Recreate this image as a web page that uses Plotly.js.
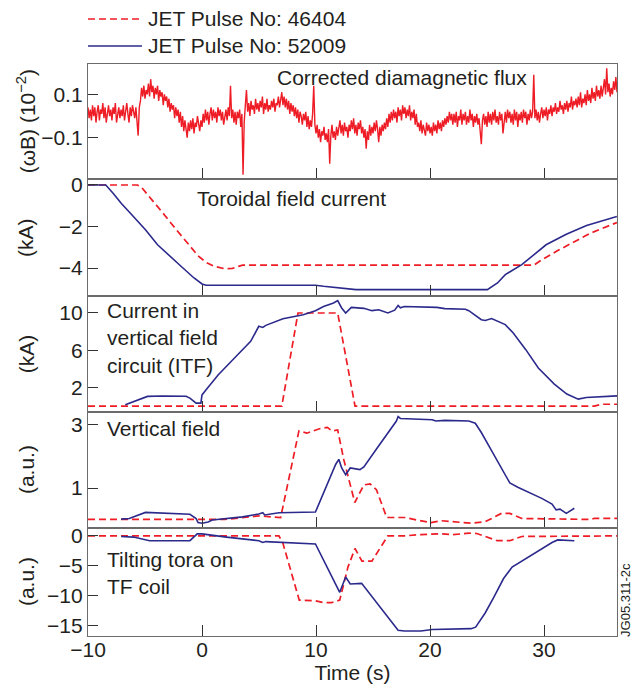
<!DOCTYPE html>
<html><head><meta charset="utf-8">
<script src="https://cdn.plot.ly/plotly-3.0.1.min.js"></script>
<style>html,body{margin:0;padding:0;background:#fff;}#chart{width:634px;height:686px;}</style>
</head><body><div id="chart"></div>
<script>
// ---------- data ----------
const timeRange = [-10, 36.4];
const xTickVals = [-10, 0, 10, 20, 30];
const xTickText = ['\u221210', '0', '10', '20', '30'];
const legendNames = ['JET Pulse No: 46404', 'JET Pulse No: 52009'];
const panelLabels = ['Corrected diamagnetic flux', 'Toroidal field current',
  'Current in<br>vertical field<br>circuit (ITF)', 'Vertical field', 'Tilting tora on<br>TF coil'];
const yTitles = ['(\u03c9B) (10<sup>\u22122</sup>)', '(kA)', '(kA)', '(a.u.)', '(a.u.)'];
const yTickVals1 = [-0.1, 0.1];
const yTickText1 = ['\u22120.1', '0.1'];
const yTickVals2 = [-4, -2, 0];
const yTickVals3 = [2, 6, 10];
const yTickVals4 = [1, 3];
const yTickVals5 = [-15, -10, -5, 0];

// Panel 1: corrected diamagnetic flux, read every 0.1 s from -10 s (one row per second)
const fluxStart = -10, fluxStep = 0.1;
const fluxValues = [
  0.04,-0.01,0.03,-0.02,0.05,0.00,0.04,-0.03,0.02,0.05,
  -0.02,0.03,0.01,0.06,-0.01,0.04,-0.03,0.02,0.05,0.00,
  0.03,-0.02,0.04,0.01,0.06,-0.03,0.02,0.04,-0.01,0.03,
  0.00,0.05,-0.02,0.03,0.06,0.01,-0.03,0.04,0.00,0.05,
  0.02,-0.01,0.04,-0.05,-0.09,0.04,0.07,0.13,0.09,0.14,
  0.08,0.12,0.10,0.15,0.09,0.17,0.11,0.14,0.08,0.13,
  0.10,0.14,0.07,0.12,0.09,0.11,0.05,0.10,0.07,0.09,
  0.04,0.08,0.02,0.06,0.03,0.05,-0.01,0.04,0.00,0.03,
  -0.03,0.02,-0.05,0.00,-0.07,-0.02,-0.06,-0.10,-0.03,-0.07,
  -0.02,-0.06,-0.01,-0.08,-0.03,-0.05,0.00,-0.04,-0.07,-0.02,
  -0.05,0.01,-0.03,0.03,-0.02,0.02,-0.04,0.01,0.04,-0.02,
  0.03,-0.01,0.02,-0.03,0.04,0.00,0.03,-0.02,0.02,-0.04,
  0.01,0.03,-0.02,0.04,0.00,0.14,-0.01,0.03,-0.03,0.02,
  -0.04,0.02,-0.01,0.03,-0.05,0.01,-0.27,-0.03,0.05,0.12,
  0.02,0.06,0.00,0.07,0.03,0.05,0.01,0.08,0.03,0.06,
  0.02,0.07,0.04,0.09,0.01,0.06,0.03,0.08,0.02,0.05,
  0.03,0.07,0.04,0.08,0.02,0.06,0.05,0.09,0.04,0.07,
  0.11,0.05,0.09,0.04,0.08,0.03,0.07,0.01,0.06,0.02,
  0.05,0.00,0.04,-0.01,0.03,-0.03,0.02,0.00,-0.04,0.01,
  -0.02,0.02,-0.05,0.00,-0.06,-0.02,-0.05,0.01,0.14,-0.04,
  -0.08,-0.04,-0.10,-0.06,-0.12,-0.07,-0.09,-0.05,-0.11,-0.08,
  -0.12,-0.06,-0.22,-0.09,-0.04,-0.10,-0.07,-0.11,-0.05,-0.09,
  -0.06,-0.02,-0.08,-0.04,-0.09,-0.03,-0.07,-0.05,-0.10,-0.04,
  -0.07,-0.02,-0.06,-0.01,-0.08,-0.04,-0.09,-0.03,-0.06,-0.02,
  -0.08,-0.05,-0.10,-0.06,-0.15,-0.07,-0.11,-0.04,-0.09,-0.05,
  -0.08,-0.03,-0.07,-0.02,-0.06,-0.12,-0.05,-0.09,-0.04,-0.07,
  -0.03,-0.06,-0.01,-0.05,0.01,-0.03,0.02,-0.02,0.03,-0.01,
  0.02,-0.03,0.04,0.00,0.03,-0.02,0.05,0.01,0.04,-0.01,
  0.03,0.00,0.05,-0.02,0.02,-0.01,0.03,-0.04,0.01,-0.05,
  -0.03,-0.07,-0.02,-0.08,-0.04,-0.06,-0.09,-0.03,-0.07,-0.04,
  -0.08,-0.05,-0.09,-0.03,-0.07,-0.04,-0.08,-0.02,-0.06,-0.03,
  -0.07,-0.02,-0.05,-0.01,-0.04,0.00,-0.03,0.02,-0.02,0.01,
  -0.04,0.01,-0.03,0.02,-0.05,0.00,-0.02,0.03,-0.04,0.01,
  -0.02,0.02,-0.04,0.00,-0.03,0.03,-0.02,0.01,-0.05,0.00,
  -0.03,0.01,-0.04,-0.01,-0.07,-0.13,-0.02,0.01,-0.04,0.00,
  -0.05,0.02,-0.03,0.01,-0.04,0.02,-0.02,0.03,-0.03,0.00,
  -0.04,0.02,-0.02,0.01,-0.08,-0.01,0.02,-0.03,0.03,-0.01,
  0.02,-0.03,0.01,-0.04,0.03,-0.02,0.02,-0.05,0.01,-0.02,
  0.02,-0.03,0.03,-0.01,0.02,-0.04,0.01,-0.02,0.03,-0.01,
  0.02,0.19,-0.01,0.03,-0.02,0.02,-0.03,0.01,0.04,-0.01,
  0.03,0.00,0.04,-0.02,0.03,0.01,0.05,0.00,0.04,0.02,
  0.06,0.01,0.04,0.02,0.07,0.03,0.05,0.01,0.06,0.03,
  0.07,0.02,0.06,0.04,0.09,0.03,0.07,0.05,0.08,0.04,
  0.09,0.05,0.11,0.04,0.08,0.06,0.10,0.05,0.12,0.07,
  0.10,0.06,0.13,0.08,0.11,0.07,0.14,0.09,0.12,0.08,
  0.14,0.09,0.12,0.17,0.10,0.22,0.11,0.15,0.09,0.13,
  0.10,0.16,0.12,0.18,0.11
];
const fluxTime = fluxValues.map((_, i) => +(fluxStart + i * fluxStep).toFixed(2));

// Panel 2: toroidal field current (kA)
const torRedT = [-10,-5.67,-5.31,-4.6,-3.54,-2.48,-1.41,-0.35,0.36,1.07,1.96,2.67,3.2,3.56,29.11,29.82,31.24,32.66,34.08,36.39];
const torRedV = [0,0,-0.11,-0.56,-1.28,-2.0,-2.72,-3.41,-3.73,-3.92,-4.03,-4.02,-3.92,-3.86,-3.86,-3.6,-3.15,-2.72,-2.32,-1.81];
const torBlueT = [-10,-8.44,-7.8,-7.09,-6.02,-4.96,-3.9,-2.83,-1.77,-0.7,0,0.36,9.95,10.66,13.5,25.03,25.92,26.6,28.05,30.18,31.95,33.73,36.39];
const torBlueV = [0,0,-0.4,-0.88,-1.52,-2.16,-2.88,-3.44,-3.95,-4.48,-4.77,-4.83,-4.83,-4.88,-5.04,-5.04,-4.72,-4.32,-3.84,-2.88,-2.37,-1.95,-1.52];

// Panel 3: current in vertical field circuit (kA)
const vfcRedT = [-10,7.0,8.42,11.9,13.42,34.4,35.1,36.4];
const vfcRedV = [0,0,10,10,0,0,0.2,0.2];
const vfcBlueT = [-6.73,-4.78,-3.5,-2.0,-1.4,-1.06,-0.52,-0.1,0,0.36,1.43,2.85,4.27,4.98,5.33,5.6,7.1,8.88,9.95,10.66,11.54,11.9,12.25,12.6,13.1,14.2,14.9,15.5,16.3,16.9,17.2,17.4,17.75,20.6,21.3,23.1,23.4,24.5,24.85,25.4,26.6,27.3,28.4,29.5,30.9,32.0,33.0,33.7,36.4];
const vfcBlueV = [0.14,1.04,1.08,1.1,1.05,0.86,0.32,0.32,1.2,1.76,3.37,5.16,6.95,8.57,8.45,8.67,9.39,9.82,10.25,10.7,11.07,11.33,10.54,10.0,10.6,10.5,10.25,10.35,10.0,10.3,10.8,10.55,10.7,10.6,10.47,10.4,10.25,9.28,9.2,9.4,8.75,7.85,6.06,4.09,2.37,1.29,0.75,0.93,1.1];

// Panel 4: vertical field (a.u.)
const vfRedT = [-10,-1,0,2,5.0,6.9,8.5,9.2,10.3,11.0,11.4,11.9,12.43,13.4,14.2,14.74,15.3,16.2,17.75,18.8,20.06,21.0,22.0,23.6,24.85,26.27,27.0,28.05,34.1,34.4,36.4];
const vfRedV = [0.02,0.02,0.0,0.02,0.13,0.08,2.79,2.72,2.86,2.9,2.79,2.82,1.9,0.55,1.1,1.13,0.95,0.08,0.08,0.0,-0.08,-0.02,-0.05,-0.1,-0.05,0.21,0.21,0.05,0.02,0.05,0.05];
const vfBlueT = [-7.09,-6.38,-4.96,-1.06,-0.52,-0.35,0,0.54,0.9,2.14,3.56,4.98,5.33,5.5,6.75,9.95,10.66,11.72,12.0,12.25,12.6,13.0,13.85,14.2,15.27,16.3,17.05,17.2,17.4,20.2,20.5,21.3,23.4,23.97,24.5,25.2,26.3,27.0,27.7,28.4,29.8,30.7,31.06,31.4,31.95,32.66];
const vfBlueV = [0.03,0.05,0.24,0.18,0.05,-0.08,-0.1,-0.06,0.0,0.05,0.1,0.19,0.23,0.16,0.23,0.25,0.84,1.74,1.9,1.63,1.42,1.63,1.58,1.66,2.21,2.74,3.1,3.24,3.18,3.14,3.1,3.12,3.1,3.03,2.74,2.3,1.58,1.16,1.03,0.92,0.68,0.5,0.32,0.34,0.21,0.37];

// Panel 5: tilting tora on TF coil (a.u.)
const tiltRedT = [-10,6.75,7.1,8.53,9.95,10.66,11.37,12.08,12.8,13.42,14.03,14.9,16.3,17.75,19.2,21.0,22.0,23.4,24.1,24.85,25.9,27.0,28.05,36.4];
const tiltRedV = [0,0,-1.24,-10.7,-10.8,-11.1,-11.1,-10.7,-5.2,-2.1,-4.2,-4.2,0,0,0.22,0.34,0.2,0.45,0.4,-0.1,-0.8,-0.8,-0.1,0];
const tiltBlueT = [-7.09,-6.0,-4.6,-1.06,-0.42,0,2.14,4.98,5.33,5.6,9.95,12.08,12.6,13.0,14.0,17.2,17.75,19.2,20.2,21.0,23.6,24.0,24.5,24.85,25.6,26.45,27.2,28.4,29.8,30.7,31.2,32.66];
const tiltBlueV = [-0.1,-0.2,-0.8,-0.8,0.34,0.34,-0.2,-0.8,-1.1,-0.95,-1.35,-9.4,-6.85,-8.0,-7.9,-15.7,-15.85,-15.85,-15.6,-15.56,-15.45,-15.2,-13.9,-12.8,-10.2,-7.1,-5.2,-3.76,-2.1,-1.1,-0.67,-0.8];

// ---------- styling ----------
const RED = '#ee1c25', BLUE = '#2b2a8c', FRAME = '#6b6b6b', TXT = '#231f20';
const FONT = 'Liberation Sans, Arial, Helvetica, sans-serif';
const FS = 21;
const redDash = {color: RED, width: 1.7, dash: '7px,4px'};
const blueLine = {color: BLUE, width: 1.6};

function tr(x, y, line, ax, name) {
  return {x: x, y: y, type: 'scatter', mode: 'lines', line: line, name: name,
          xaxis: 'x' + ax, yaxis: 'y' + ax, showlegend: false, hoverinfo: 'skip'};
}
const data = [
  tr(fluxTime, fluxValues, {color: RED, width: 1.4}, '', legendNames[0]),
  tr(torRedT, torRedV, redDash, '2', legendNames[0]),
  tr(torBlueT, torBlueV, blueLine, '2', legendNames[1]),
  tr(vfcRedT, vfcRedV, redDash, '3', legendNames[0]),
  tr(vfcBlueT, vfcBlueV, blueLine, '3', legendNames[1]),
  tr(vfRedT, vfRedV, redDash, '4', legendNames[0]),
  tr(vfBlueT, vfBlueV, blueLine, '4', legendNames[1]),
  tr(tiltRedT, tiltRedV, redDash, '5', legendNames[0]),
  tr(tiltBlueT, tiltBlueV, blueLine, '5', legendNames[1])
];

const domains = [[0.799, 1], [0.594, 0.799], [0.392, 0.594], [0.189, 0.392], [0, 0.189]];
const yRanges = [[-0.29, 0.24], [-5.36, 0.29], [-0.61, 11.8], [-0.245, 3.39], [-16.67, 1.33]];
const yTicks = [yTickVals1, yTickVals2, yTickVals3, yTickVals4, yTickVals5];

const layout = {
  width: 634, height: 686,
  margin: {l: 88, r: 17, t: 64, b: 50, pad: 0},
  paper_bgcolor: '#fff', plot_bgcolor: '#fff',
  font: {family: FONT, size: FS, color: TXT},
  showlegend: false, hovermode: false,
  annotations: [], shapes: []
};
for (let i = 0; i < 5; i++) {
  const s = i === 0 ? '' : String(i + 1);
  layout['xaxis' + s] = {
    range: timeRange, tickvals: xTickVals, ticktext: xTickText,
    ticks: 'inside', ticklen: 11, tickcolor: '#333', tickwidth: 1,
    showline: true, mirror: true, linecolor: FRAME, linewidth: 1.2,
    showgrid: false, zeroline: false, anchor: 'y' + s,
    showticklabels: i === 4, tickfont: {size: FS, color: TXT}
  };
  layout['yaxis' + s] = {
    domain: domains[i], range: yRanges[i], tickvals: yTicks[i],
    ticks: 'inside', ticklen: 10, tickcolor: '#333', tickwidth: 1,
    showline: true, mirror: true, linecolor: FRAME, linewidth: 1.2,
    showgrid: false, zeroline: false, anchor: 'x' + s,
    tickfont: {size: FS, color: TXT}
  };
}
layout.yaxis.ticktext = yTickText1;
layout.xaxis5.ticklabelstandoff = -5;
layout.xaxis5.title = {text: 'Time (s)', font: {size: FS, color: TXT}, standoff: 0};

// panel labels
const labelPos = [[0.353, 0.976], [0.203, 0.765], [0.032, 0.5215], [0.032, 0.362], [0.032, 0.1093]];
panelLabels.forEach((t, i) => layout.annotations.push({
  text: t, xref: 'paper', yref: 'paper', x: labelPos[i][0], y: labelPos[i][1],
  xanchor: 'left', yanchor: 'middle', align: 'left', showarrow: false,
  font: {size: FS, color: TXT}
}));
// y titles
const yTitleY = [0.9, 0.696, 0.4926, 0.2902, 0.0944];
yTitles.forEach((t, i) => layout.annotations.push({
  text: t, xref: 'paper', yref: 'paper', x: -0.117, y: yTitleY[i],
  xanchor: 'center', yanchor: 'middle', textangle: -90, showarrow: false,
  font: {size: FS, color: TXT}
}));
// figure id
layout.annotations.push({
  text: 'JG05.311-2c', xref: 'paper', yref: 'paper', x: 1.017, y: 0.063,
  xanchor: 'center', yanchor: 'middle', textangle: -90, showarrow: false,
  font: {size: 13, color: TXT}
});
// legend (drawn above the panels)
const legendRowsY = [1.0787, 1.0315];
const legendStyles = [redDash, blueLine];
legendNames.forEach((n, i) => {
  layout.shapes.push({type: 'line', xref: 'paper', yref: 'paper', x0: 0, x1: 0.102,
    y0: legendRowsY[i], y1: legendRowsY[i], line: legendStyles[i]});
  layout.annotations.push({text: n, xref: 'paper', yref: 'paper', x: 0.11, y: legendRowsY[i],
    xanchor: 'left', yanchor: 'middle', showarrow: false, font: {size: FS, color: TXT}});
});

Plotly.newPlot('chart', data, layout, {staticPlot: true, displayModeBar: false});
</script></body></html>
